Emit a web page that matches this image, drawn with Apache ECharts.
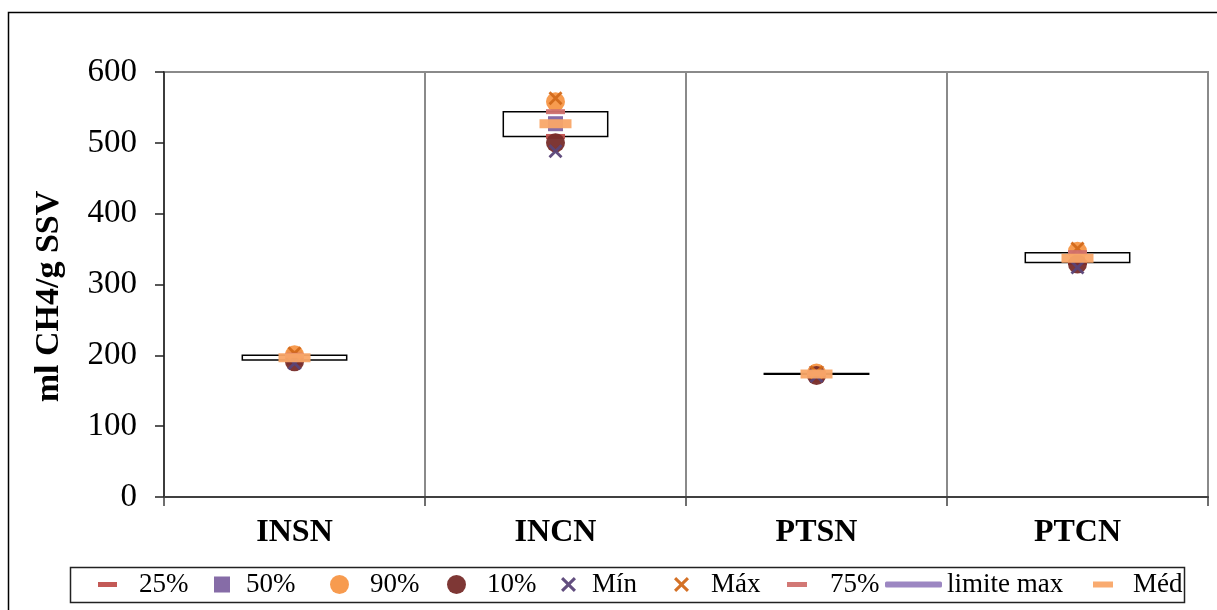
<!DOCTYPE html>
<html>
<head>
<meta charset="utf-8">
<script src="https://cdn.jsdelivr.net/npm/echarts@6/dist/echarts.min.js"></script>
<style>html,body{margin:0;padding:0;background:#fff}#c{width:1217px;height:610px}</style>
</head>
<body>
<div id="c"></div>
<script>
// ---- data ----
const categories = ['INSN', 'INCN', 'PTSN', 'PTCN'];
const p25 = [193.5, 509, 173.3, 331];
const p50 = [197, 527, 173.8, 338];
const p90 = [201, 558, 175, 347];
const p10 = [191, 500, 171.5, 329];
const minVals = [189, 488, 171, 324];
const maxVals = [203, 563, 176, 351];
const p75 = [200, 544, 174.3, 345];
const limiteMax = [null, null, null, null];
const med = [196.5, 527, 173.8, 337];
const yTicks = { min: 0, max: 600, interval: 100 };
const yTitle = 'ml CH4/g SSV';

// ---- styling ----
const FONT = 'Liberation Serif';
const X_PATH = 'path://M2,0 L7,5 L12,0 L14,2 L9,7 L14,12 L12,14 L7,9 L2,14 L0,12 L5,7 L0,2 Z';
const seriesDefs = [
  { name: '25%', data: p25, color: '#C0504D', symbol: 'rect', size: [19, 5], leg: { left: 98, w: 19, h: 5, text: 139 } },
  { name: '50%', data: p50, color: '#8064A2', symbol: 'rect', size: [15, 15], leg: { left: 214, w: 16, h: 16, text: 246 } },
  { name: '90%', data: p90, color: '#F79646', symbol: 'circle', size: 19, leg: { left: 330, w: 19, h: 19, text: 370 } },
  { name: '10%', data: p10, color: '#772C2A', symbol: 'circle', size: 19, leg: { left: 447, w: 19, h: 19, text: 487 } },
  { name: 'Mín', data: minVals, color: '#5A4478', symbol: X_PATH, size: 14, leg: { left: 561, w: 15, h: 15, text: 592 } },
  { name: 'Máx', data: maxVals, color: '#D2691A', symbol: X_PATH, size: 14, leg: { left: 674, w: 15, h: 15, text: 711 } },
  { name: '75%', data: p75, color: '#D0716E', symbol: 'rect', size: [19, 5], leg: { left: 787, w: 20, h: 5, text: 830 } },
  { name: 'limite max', data: limiteMax, color: '#9C87C2', line: true, leg: { left: 885, w: 57, h: 6, text: 946 } },
  { name: 'Méd', data: med, color: '#F9A768', symbol: 'rect', size: [32, 9], leg: { left: 1093, w: 20, h: 6, text: 1133 } }
];

const series = [{
  type: 'custom',
  name: 'box',
  z: 1,
  data: categories.map((c, i) => [i, p25[i], p75[i]]),
  renderItem: function (params, api) {
    const lo = api.coord([api.value(0), api.value(1)]);
    const hi = api.coord([api.value(0), api.value(2)]);
    const bw = api.size([1, 0])[0] * 0.4;
    return {
      type: 'rect',
      shape: { x: lo[0] - bw / 2, y: hi[1], width: bw, height: lo[1] - hi[1] },
      style: { fill: '#fff', stroke: '#000', lineWidth: 1.5 }
    };
  }
}];
seriesDefs.forEach((d, k) => {
  if (d.line) {
    series.push({ type: 'line', name: d.name, data: d.data, symbol: 'none', z: 3 + k,
      lineStyle: { color: d.color, width: 5 }, itemStyle: { color: d.color } });
  } else {
    series.push({ type: 'scatter', name: d.name, data: d.data, symbol: d.symbol, symbolSize: d.size,
      z: 3 + k, itemStyle: { color: d.color, opacity: 0.95 } });
  }
});

const legends = seriesDefs.map(d => ({
  data: [{ name: d.name, icon: d.line ? 'roundRect' : (d.symbol === 'circle' ? 'circle' : (d.symbol === 'rect' ? 'rect' : d.symbol)),
           itemStyle: { color: d.color, borderWidth: 0 } }],
  left: d.leg.left,
  top: 571,
  padding: 0,
  selectedMode: false,
  itemWidth: d.leg.w,
  itemHeight: d.leg.h,
  itemStyle: { color: d.color, borderWidth: 0 },
  lineStyle: { color: d.color },
  textStyle: {
    fontFamily: FONT, fontSize: 27, color: '#000', lineHeight: 27,
    padding: [0, 0, 0, Math.max(0, d.leg.text - (d.leg.left + d.leg.w + 5))]
  }
}));

const chart = echarts.init(document.getElementById('c'), null, { renderer: 'canvas' });
chart.setOption({
  animation: false,
  backgroundColor: '#fff',
  grid: { left: 164, right: 9, top: 72, bottom: 113, show: true, borderColor: '#8a8a8a', borderWidth: 2, backgroundColor: 'transparent' },
  xAxis: {
    type: 'category', data: categories,
    axisLine: { lineStyle: { color: '#404040', width: 2 } },
    axisTick: { show: true, length: 9, lineStyle: { color: '#404040', width: 1.5 } },
    splitLine: { show: true, lineStyle: { color: '#8a8a8a', width: 2 } },
    axisLabel: { fontFamily: FONT, fontSize: 32, fontWeight: 'bold', color: '#000', margin: 20 }
  },
  yAxis: {
    type: 'value', min: yTicks.min, max: yTicks.max, interval: yTicks.interval,
    name: yTitle, nameLocation: 'middle', nameGap: 98, nameRotate: 90,
    nameTextStyle: { fontFamily: FONT, fontSize: 34, fontWeight: 'bold', color: '#000', padding: [0, 24, 0, 0] },
    axisLine: { show: true, lineStyle: { color: '#222', width: 1.5 } },
    axisTick: { show: true, length: 9, lineStyle: { color: '#222', width: 1.5 } },
    splitLine: { show: false },
    axisLabel: { fontFamily: FONT, fontSize: 33, color: '#000', margin: 27 }
  },
  legend: legends,
  series: series,
  graphic: [
    { type: 'rect', silent: true, z: -10, shape: { x: 8.5, y: 12.5, width: 1260, height: 700 },
      style: { fill: 'none', stroke: '#000', lineWidth: 1.5 } },
    { type: 'rect', silent: true, z: -5, shape: { x: 70.5, y: 567.5, width: 1114, height: 35 },
      style: { fill: 'none', stroke: '#222', lineWidth: 1.5 } }
  ]
});
</script>
</body>
</html>
